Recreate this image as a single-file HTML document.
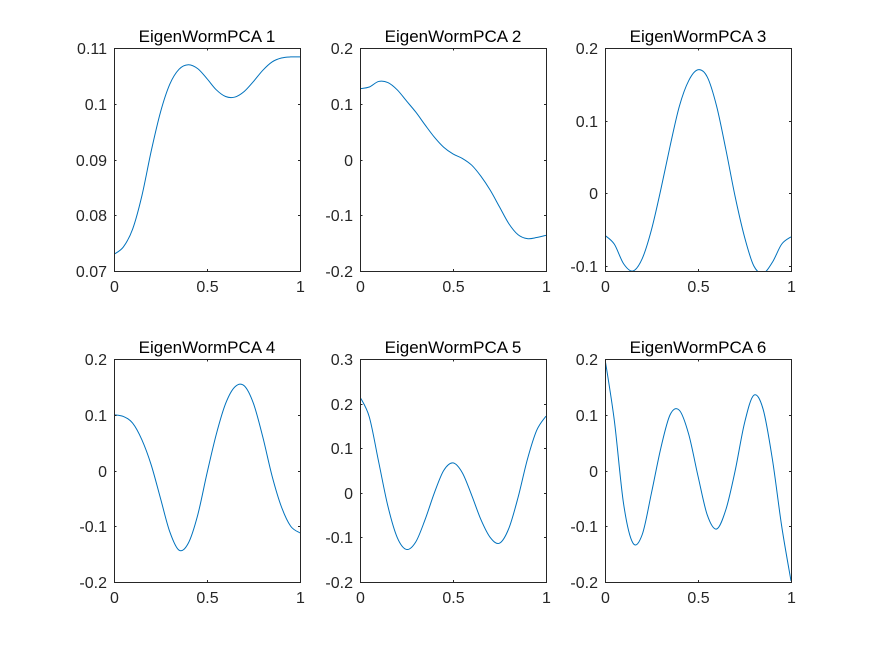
<!DOCTYPE html>
<html><head><meta charset="utf-8"><style>
html,body{margin:0;padding:0;background:#fff;}
svg{display:block;font-family:"Liberation Sans",Arial,sans-serif;}
</style></head><body>
<svg id="fig" width="875" height="656" viewBox="0 0 875 656" xmlns="http://www.w3.org/2000/svg">
<rect width="875" height="656" fill="#fff"/>
</svg>
<script>
const xs=[0,0.05,0.1,0.15,0.2,0.25,0.3,0.35,0.4,0.45,0.5,0.55,0.6,0.65,0.7,0.75,0.8,0.85,0.9,0.95,1];
const s1=[0.073,0.0743,0.0775,0.0835,0.0915,0.0985,0.1035,0.1062,0.107,0.1063,0.1045,0.1025,0.1013,0.1012,0.1022,0.104,0.106,0.1075,0.1082,0.1084,0.1084];
const s2=[0.127,0.13,0.14,0.138,0.125,0.105,0.085,0.062,0.04,0.022,0.01,0.002,-0.01,-0.03,-0.055,-0.085,-0.115,-0.135,-0.142,-0.14,-0.136];
const s3=[-0.058,-0.07,-0.097,-0.107,-0.09,-0.05,0.005,0.065,0.12,0.155,0.17,0.16,0.12,0.06,-0.005,-0.06,-0.1,-0.11,-0.095,-0.07,-0.06];
const s4=[0.1,0.097,0.085,0.055,0.01,-0.05,-0.11,-0.143,-0.13,-0.08,-0.005,0.065,0.12,0.15,0.152,0.12,0.06,-0.01,-0.065,-0.1,-0.112];
const s5=[0.215,0.17,0.07,-0.03,-0.1,-0.127,-0.11,-0.06,0.0,0.05,0.067,0.045,-0.005,-0.06,-0.1,-0.113,-0.08,-0.01,0.075,0.14,0.172];
const s6=[0.2,0.09,-0.06,-0.13,-0.115,-0.04,0.04,0.1,0.108,0.065,-0.01,-0.08,-0.105,-0.07,0.0,0.085,0.135,0.11,0.02,-0.1,-0.198];
const titles=["EigenWormPCA 1","EigenWormPCA 2","EigenWormPCA 3","EigenWormPCA 4","EigenWormPCA 5","EigenWormPCA 6"];
const yr=[[0.07,0.11],[-0.2,0.2],[-0.107,0.2],[-0.2,0.2],[-0.2,0.3],[-0.2,0.2]];
const yt=[["0.07","0.08","0.09","0.1","0.11"],["-0.2","-0.1","0","0.1","0.2"],["-0.1","0","0.1","0.2"],["-0.2","-0.1","0","0.1","0.2"],["-0.2","-0.1","0","0.1","0.2","0.3"],["-0.2","-0.1","0","0.1","0.2"]];
const xt=["0","0.5","1"];
const series=[s1,s2,s3,s4,s5,s6];
const NS="http://www.w3.org/2000/svg";
const svg=document.getElementById('fig');
const lefts=[114,360,605], tops=[48,359], W=186, H=223;
function mk(t,a,p){const e=document.createElementNS(NS,t);for(const k in a)e.setAttribute(k,a[k]);(p||svg).appendChild(e);return e;}
for(let i=0;i<6;i++){
  const L=lefts[i%3],T=tops[Math.floor(i/3)];
  const g=mk('g',{});
  
  
  const sx=v=>L+v*W;
  const sy=v=>T+H-(v-yr[i][0])/(yr[i][1]-yr[i][0])*H;
  const cp=mk('clipPath',{id:'c'+i},g);
  mk('rect',{x:L,y:T,width:W,height:H},cp);
  const pts=xs.map((x,j)=>[sx(x),sy(series[i][j])]);
  let d='M'+pts[0][0]+','+pts[0][1];
  for(let j=0;j<pts.length-1;j++){
    const p0=pts[Math.max(j-1,0)],p1=pts[j],p2=pts[j+1],p3=pts[Math.min(j+2,pts.length-1)];
    d+=' C'+(p1[0]+(p2[0]-p0[0])/6)+','+(p1[1]+(p2[1]-p0[1])/6)+' '+(p2[0]-(p3[0]-p1[0])/6)+','+(p2[1]-(p3[1]-p1[1])/6)+' '+p2[0]+','+p2[1];
  }
  const ln=mk('path',{d:d,fill:'none',stroke:'#0072BD','stroke-width':1,'clip-path':'url(#c'+i+')'},g);
  
  
  const bx=mk('rect',{x:L+0.5,y:T+0.5,width:W,height:H,fill:'none',stroke:'#262626','stroke-width':1},g);
  
  
  yt[i].forEach(t=>{
    const y=Math.round(sy(parseFloat(t)))+0.5;
    mk('line',{x1:L,x2:L+2.5,y1:y,y2:y,stroke:'#262626'},g);
    mk('line',{x1:L+W-2,x2:L+W,y1:y,y2:y,stroke:'#262626'},g);
    const tx=mk('text',{x:L-7,y:y+5.5,'text-anchor':'end','font-size':16,fill:'#262626'},g);
    tx.textContent=t;
    
    
  });
  xt.forEach(t=>{
    const x=Math.round(sx(parseFloat(t)))+0.5;
    mk('line',{x1:x,x2:x,y1:T+H,y2:T+H-2,stroke:'#262626'},g);
    mk('line',{x1:x,x2:x,y1:T,y2:T+2.5,stroke:'#262626'},g);
    const tx=mk('text',{x:x,y:T+H+21,'text-anchor':'middle','font-size':16,fill:'#262626'},g);
    tx.textContent=t;
    
    
  });
  const tt=mk('text',{x:L+W/2,y:T-6,'text-anchor':'middle','font-size':17,fill:'#000'},g);
  tt.textContent=titles[i];
  
  
}
</script>
</body></html>
